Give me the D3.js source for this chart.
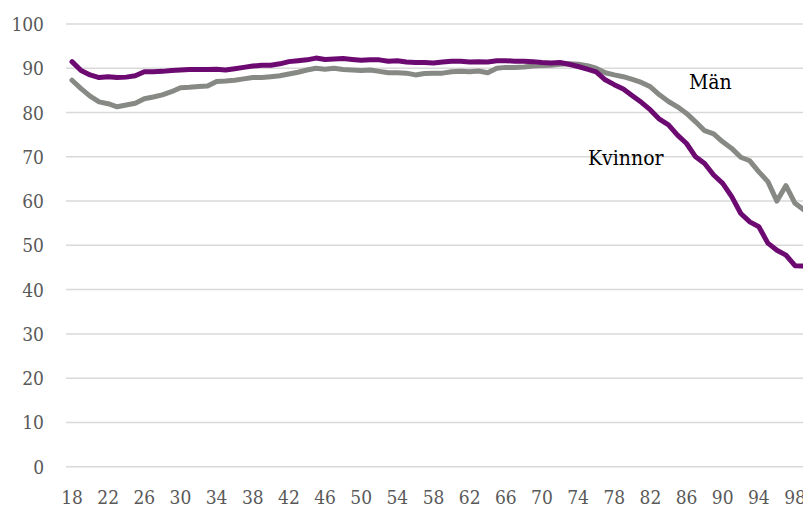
<!DOCTYPE html>
<html>
<head>
<meta charset="utf-8">
<script src="https://cdn.jsdelivr.net/npm/d3@7"></script>
<style>
  html, body { margin: 0; padding: 0; background: #fff; overflow: hidden; }
  svg { display: block; font-family: "DejaVu Serif Condensed", "DejaVu Serif", serif; font-stretch: condensed; }
  .tick-label { fill: #595959; font-size: 19px; }
  .series-label { fill: #000; font-size: 21px; }
  .grid line { stroke: #d9d9d9; stroke-width: 1.5; }
  .line { fill: none; stroke-width: 5; stroke-linejoin: round; stroke-linecap: round; }
</style>
</head>
<body>
<div id="chart"></div>
<script>
// ages (category axis)
const ages = [18, 19, 20, 21, 22, 23, 24, 25, 26, 27, 28, 29, 30, 31, 32, 33, 34, 35, 36, 37,
  38, 39, 40, 41, 42, 43, 44, 45, 46, 47, 48, 49, 50, 51, 52, 53, 54, 55, 56, 57,
  58, 59, 60, 61, 62, 63, 64, 65, 66, 67, 68, 69, 70, 71, 72, 73, 74, 75, 76, 77,
  78, 79, 80, 81, 82, 83, 84, 85, 86, 87, 88, 89, 90, 91, 92, 93, 94, 95, 96, 97,
  98, 99, 100];

const kvinnor = [91.5, 89.5, 88.5, 87.9, 88.1, 87.9, 88.0, 88.3, 89.2, 89.2, 89.3, 89.5, 89.6, 89.7, 89.7, 89.7, 89.8, 89.6, 89.9, 90.2,
  90.5, 90.7, 90.7, 91.0, 91.5, 91.7, 91.9, 92.3, 92.0, 92.1, 92.2, 92.0, 91.8, 91.9, 91.9, 91.6, 91.7, 91.4, 91.3, 91.3,
  91.2, 91.4, 91.6, 91.6, 91.4, 91.5, 91.4, 91.7, 91.7, 91.6, 91.6, 91.5, 91.3, 91.2, 91.3, 90.9, 90.4, 89.8, 89.2, 87.4,
  86.3, 85.3, 83.8, 82.3, 80.6, 78.5, 77.2, 74.9, 73.0, 70.0, 68.5, 65.9, 64.0, 61.0, 57.2, 55.3, 54.2, 50.5, 48.9, 47.8,
  45.4, 45.3, 42.5];

const man = [87.3, 85.4, 83.7, 82.4, 82.0, 81.3, 81.7, 82.1, 83.1, 83.5, 84.0, 84.7, 85.6, 85.7, 85.9, 86.0, 87.0, 87.1, 87.3, 87.6,
  87.9, 87.9, 88.1, 88.3, 88.7, 89.1, 89.6, 90.0, 89.8, 90.0, 89.7, 89.6, 89.5, 89.6, 89.3, 89.0, 89.0, 88.9, 88.5, 88.8,
  88.9, 88.9, 89.2, 89.3, 89.2, 89.4, 89.0, 90.0, 90.2, 90.2, 90.3, 90.5, 90.6, 90.7, 90.9, 91.0, 90.9, 90.6, 90.0, 89.0,
  88.5, 88.1, 87.5, 86.8, 85.8, 84.0, 82.5, 81.3, 79.8, 77.9, 75.9, 75.2, 73.4, 71.9, 69.9, 69.1, 66.6, 64.4, 60.0, 63.5,
  59.5, 58.0, 58.5];

const xTicks = [18, 22, 26, 30, 34, 38, 42, 46, 50, 54, 58, 62, 66, 70, 74, 78, 82, 86, 90, 94, 98];
const yTicks = [0, 10, 20, 30, 40, 50, 60, 70, 80, 90, 100];

const W = 803, H = 507;

const svg = d3.select("#chart").append("svg")
  .attr("width", W).attr("height", H);

const x = d3.scaleLinear().domain([18, 98]).range([72, 795]);
const y = d3.scaleLinear().domain([0, 100]).range([466.7, 24]);

// gridlines
svg.append("g").attr("class", "grid")
  .selectAll("line")
  .data(yTicks)
  .join("line")
  .attr("x1", 66).attr("x2", W + 10)
  .attr("y1", d => y(d)).attr("y2", d => y(d));

// y labels
svg.append("g")
  .selectAll("text")
  .data(yTicks)
  .join("text")
  .attr("class", "tick-label")
  .attr("x", 44)
  .attr("y", d => y(d) + 7)
  .attr("text-anchor", "end")
  .text(d => d);

// x labels
svg.append("g")
  .selectAll("text")
  .data(xTicks)
  .join("text")
  .attr("class", "tick-label")
  .attr("x", d => x(d))
  .attr("y", 504)
  .attr("text-anchor", "middle")
  .text(d => d);

const lineGen = vals => d3.line()
  .x((d, i) => x(ages[i]))
  .y(d => y(d))(vals);

svg.append("path").attr("class", "line")
  .attr("stroke", "#878985")
  .attr("d", lineGen(man));

svg.append("path").attr("class", "line")
  .attr("stroke", "#6c0a72")
  .attr("d", lineGen(kvinnor));

// series labels
svg.append("text").attr("class", "series-label")
  .attr("x", 689).attr("y", 89).text("Män");
svg.append("text").attr("class", "series-label")
  .attr("x", 588).attr("y", 165).text("Kvinnor");
</script>
</body>
</html>
